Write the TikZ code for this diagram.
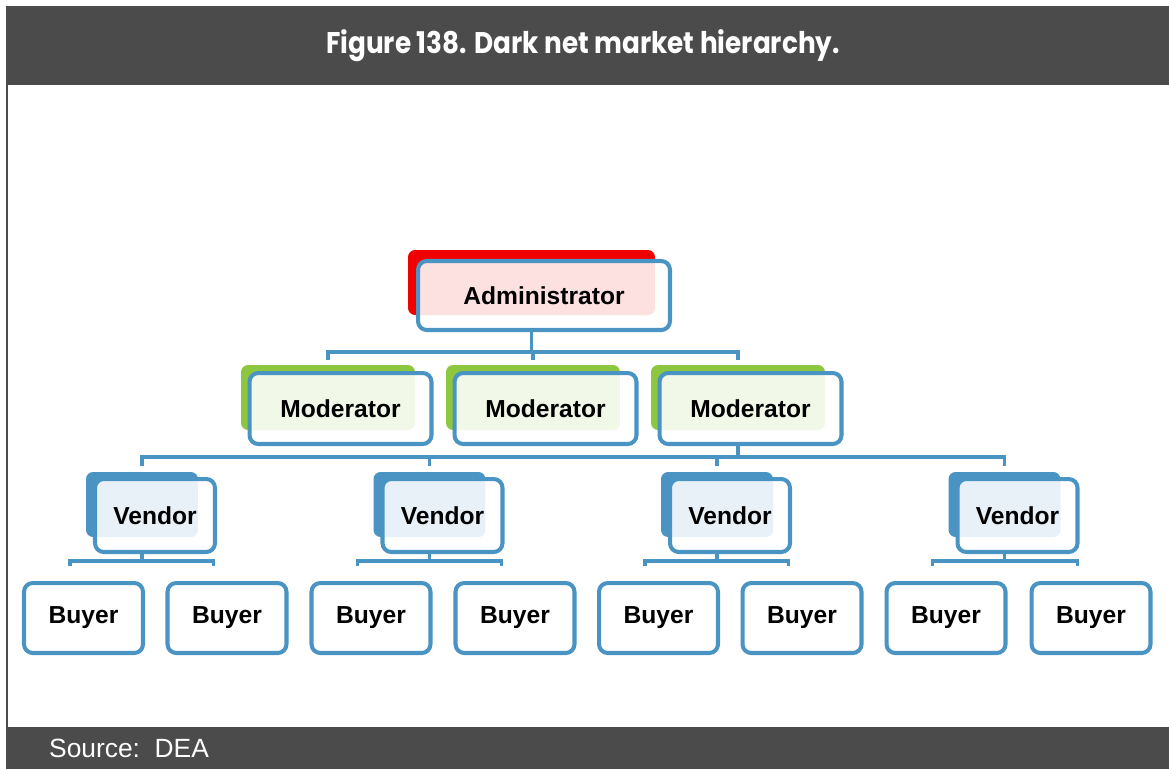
\documentclass[tikz,border=0pt]{standalone}
\usepackage{fontspec}
\usepackage{graphicx}
\setmainfont{Liberation Sans}
\newfontfamily\titlefont{Poppins}
\usetikzlibrary{positioning}

\definecolor{smartblue}{RGB}{74,148,196}
\definecolor{bandgray}{RGB}{75,75,75}
\definecolor{admred}{RGB}{240,0,0}
\definecolor{modgreen}{RGB}{141,198,63}

\tikzset{
    backbox/.style={rounded corners=4pt, inner sep=0pt, minimum height=1.30cm},
    frontbox/.style={draw=smartblue, line width=2.3pt, rounded corners=5pt, fill=white,
        fill opacity=0.88, text opacity=1, inner sep=0pt,
        font=\bfseries\fontsize{14}{16}\selectfont},
    link/.style={draw=smartblue, line width=2.1pt},
}

\begin{document}
\begin{tikzpicture}[x=0.02cm, y=-0.02cm]
    % Page frame
    \useasboundingbox (0,0) rectangle (1169,769);
    \fill[bandgray] (6,6) rectangle (1169,85);
    \fill[bandgray] (6,727) rectangle (1169,769);
    \draw[bandgray, line width=0.04cm] (7,85) -- (7,727);
    \node[text=white, font=\titlefont\bfseries\fontsize{17}{19}\selectfont] (title) at (583,46)
        {\scalebox{0.88}[1]{Figure 138. Dark net market hierarchy.}};
    \node[text=white, anchor=west, font=\fontsize{15}{17}\selectfont] (source) at (43,748)
        {Source:\ \ DEA};
    % Administrator
    \node[backbox, fill=admred, minimum width=4.94cm] (admback) at (531.5,282.5) {};
    \node[frontbox, minimum width=5.04cm, minimum height=1.38cm] (adm) at (544,295.5) {Administrator};
    % Moderators
    \foreach \i/\x in {1/340.5, 2/545.5, 3/750.5}
    {
        \node[backbox, fill=modgreen, minimum width=3.48cm] (modback\i) at (\x-12.5,397.5) {};
        \node[frontbox, minimum width=3.64cm, minimum height=1.42cm] (mod\i) at (\x,408.5) {Moderator};
    }
    % Vendors
    \foreach \i/\x in {1/155, 2/442.5, 3/730, 4/1017.5}
    {
        \node[backbox, fill=smartblue, minimum width=2.24cm] (venback\i) at (\x-13,504.5) {};
        \node[frontbox, minimum width=2.40cm, minimum height=1.46cm] (ven\i) at (\x,515.5) {Vendor};
    }
    % Buyers
    \foreach \i/\x in {1/83.5, 2/227, 3/371, 4/515, 5/658.5, 6/802, 7/946, 8/1091}
        \node[frontbox, minimum width=2.38cm, minimum height=1.40cm] (buy\i) at (\x,618) {Buyer};
    % Connectors
    \coordinate (bar1) at (0,352);
    \coordinate (bar2) at (0,457);
    \coordinate (bar3) at (0,561);
    \draw[link] (admback |- adm.south) -- (admback |- bar1);
    \draw[link] ([yshift=0.1cm]modback1.north) |- (modback3 |- bar1) -- ([yshift=0.1cm]modback3.north);
    \draw[link] (modback2 |- bar1) -- ([yshift=0.1cm]modback2.north);
    \draw[link] (modback3 |- mod3.south) -- (modback3 |- bar2);
    \draw[link] ([yshift=0.12cm]venback1.north) |- (venback4 |- bar2) -- ([yshift=0.12cm]venback4.north);
    \draw[link] (venback2 |- bar2) -- ([yshift=0.12cm]venback2.north);
    \draw[link] (venback3 |- bar2) -- ([yshift=0.12cm]venback3.north);
    \foreach \i/\a/\b in {1/1/2, 2/3/4, 3/5/6, 4/7/8}
    {
        \draw[link] (venback\i |- ven\i.south) -- (venback\i |- bar3);
        \draw[link] ([xshift=-0.27cm, yshift=0.3cm]buy\a.north) |- ([xshift=-0.27cm]buy\b.north |- bar3)
            -- ([xshift=-0.27cm, yshift=0.3cm]buy\b.north);
    }
\end{tikzpicture}
\end{document}
